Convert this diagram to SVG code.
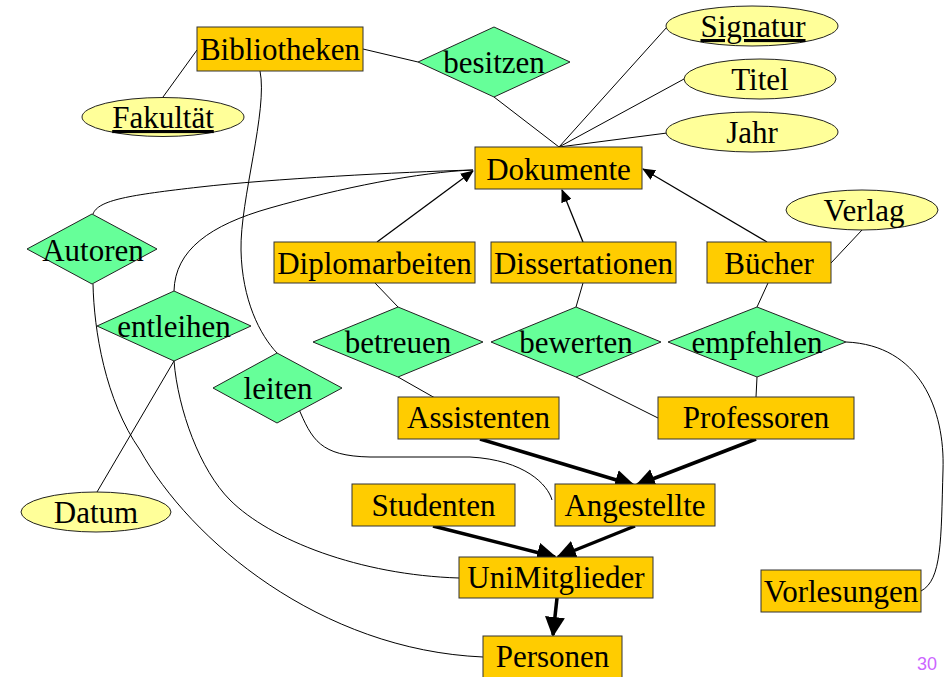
<svg xmlns="http://www.w3.org/2000/svg" width="948" height="677" viewBox="0 0 948 677">
<style>
.e rect{fill:#FFCC00;stroke:#333;stroke-width:1}
.r polygon{fill:#66FF99;stroke:#222;stroke-width:1}
.a ellipse{fill:#FFFF99;stroke:#222;stroke-width:1}
text{font-family:"Liberation Serif","Times New Roman",serif;font-size:31px;text-anchor:middle;fill:#000}
.c path{fill:none;stroke:#000;stroke-width:1}
.c .thin{stroke-width:1.3;marker-end:url(#ah)}
.c .thick{stroke-width:3.5;marker-end:url(#ahb)}
.u{text-decoration:underline}
</style>
<defs>
<marker id="ah" markerUnits="userSpaceOnUse" markerWidth="13" markerHeight="11" refX="12" refY="5.5" orient="auto"><path d="M0,0 L13,5.5 L0,11 z" fill="#000"/></marker>
<marker id="ahb" markerUnits="userSpaceOnUse" markerWidth="20" markerHeight="20" refX="18" refY="10" orient="auto"><path d="M0,0 L20,10 L0,20 z" fill="#000"/></marker>
</defs>
<rect width="948" height="677" fill="#fff"/>
<g class="c" id="connectors">
<path d="M197,50 L163,97"/>
<path d="M363,49 L418,62"/>
<path d="M494,97 L559,147"/>
<path d="M559,147 L667,27"/>
<path d="M559,147 L684,79"/>
<path d="M559,147 L667,133"/>
<path d="M862,230 L831,263"/>
<path d="M375,283 L398,307"/>
<path d="M583,283 L576,307"/>
<path d="M768,283 L757,307"/>
<path d="M398,377 L435,398"/>
<path d="M576,377 L658,418"/>
<path d="M757,377 L756,397"/>
<path d="M174,361 L97,492"/>
<path d="M93,214 C98,200 130,195 200,187 S400,172 473,170"/>
<path d="M174,291 C175,250 210,225 270,208 C340,188 420,172 473,170"/>
<path d="M260,71 C268,110 240,200 241,250 C242,300 260,335 277,353"/>
<path d="M298,407 C312,440 320,456 370,457 L470,457 C525,460 548,485 552,500"/>
<path d="M93,284 C94,330 105,400 140,450 C190,540 320,650 483,657"/>
<path d="M174,361 C178,410 200,470 230,500 C270,540 360,575 459,578"/>
<path d="M846,342 C920,345 945,410 943,470 C941,540 942,580 921,591"/>
<path class="thin" d="M377,242 L473,171"/>
<path class="thin" d="M583,242 L562,190"/>
<path class="thin" d="M767,242 L643,169"/>
<path class="thick" d="M480,439 L633,485"/>
<path class="thick" d="M756,439 L637,485"/>
<path class="thick" d="M433,526 L555,557"/>
<path class="thick" d="M635,526 L558,557"/>
<path class="thick" d="M557,598 L553,635"/>
</g>
<g class="e" id="Bibliotheken"><rect x="197" y="27" width="166" height="44"/><text x="280" y="60">Bibliotheken</text></g>
<g class="a" id="Fakultaet"><ellipse cx="163" cy="117" rx="81" ry="19.5"/><text class="u" x="163" y="128">Fakultät</text></g>
<g class="r" id="besitzen"><polygon points="418,62 494,27 570,62 494,97"/><text x="494" y="73">besitzen</text></g>
<g class="e" id="Dokumente"><rect x="475" y="147" width="167" height="42"/><text x="558.5" y="180">Dokumente</text></g>
<g class="a" id="Signatur"><ellipse cx="752" cy="26" rx="86" ry="20"/><text class="u" x="753" y="37">Signatur</text></g>
<g class="a" id="Titel"><ellipse cx="760" cy="79" rx="76" ry="20"/><text x="760" y="90">Titel</text></g>
<g class="a" id="Jahr"><ellipse cx="752" cy="132" rx="86" ry="20"/><text x="752" y="143">Jahr</text></g>
<g class="a" id="Verlag"><ellipse cx="862" cy="210" rx="76" ry="20"/><text x="864" y="221">Verlag</text></g>
<g class="r" id="Autoren"><polygon points="27,249 92,214 157,249 92,284"/><text x="93" y="261">Autoren</text></g>
<g class="e" id="Diplomarbeiten"><rect x="274" y="242" width="201" height="41"/><text x="374.5" y="274">Diplomarbeiten</text></g>
<g class="e" id="Dissertationen"><rect x="491" y="242" width="185" height="41"/><text x="583.5" y="274">Dissertationen</text></g>
<g class="e" id="Buecher"><rect x="707" y="242" width="124" height="41"/><text x="769" y="274">Bücher</text></g>
<g class="r" id="entleihen"><polygon points="97,326 174,291 251,326 174,361"/><text x="174" y="337">entleihen</text></g>
<g class="r" id="betreuen"><polygon points="313,342 398,307 483,342 398,377"/><text x="398" y="353">betreuen</text></g>
<g class="r" id="bewerten"><polygon points="491,342 576,307 661,342 576,377"/><text x="576" y="353">bewerten</text></g>
<g class="r" id="empfehlen"><polygon points="668,342 757,307 846,342 757,377"/><text x="757" y="353">empfehlen</text></g>
<g class="r" id="leiten"><polygon points="213,388 277,353 342,388 277,423"/><text x="278" y="399">leiten</text></g>
<g class="e" id="Assistenten"><rect x="398" y="397" width="161" height="42"/><text x="478.5" y="428">Assistenten</text></g>
<g class="e" id="Professoren"><rect x="658" y="397" width="196" height="42"/><text x="756" y="428">Professoren</text></g>
<g class="a" id="Datum"><ellipse cx="96" cy="512" rx="75" ry="20"/><text x="96" y="523">Datum</text></g>
<g class="e" id="Studenten"><rect x="352" y="484" width="163" height="42"/><text x="433.5" y="516">Studenten</text></g>
<g class="e" id="Angestellte"><rect x="555" y="484" width="160" height="42"/><text x="635" y="516">Angestellte</text></g>
<g class="e" id="UniMitglieder"><rect x="459" y="557" width="194" height="41"/><text x="556" y="588">UniMitglieder</text></g>
<g class="e" id="Personen"><rect x="483" y="636" width="139" height="44"/><text x="552.5" y="667">Personen</text></g>
<g class="e" id="Vorlesungen"><rect x="761" y="570" width="160" height="42"/><text x="841" y="602">Vorlesungen</text></g>
<text x="927" y="670" style="font-family:'Liberation Sans',Arial,sans-serif;font-size:18px;fill:#cc66ff">30</text>
</svg>
